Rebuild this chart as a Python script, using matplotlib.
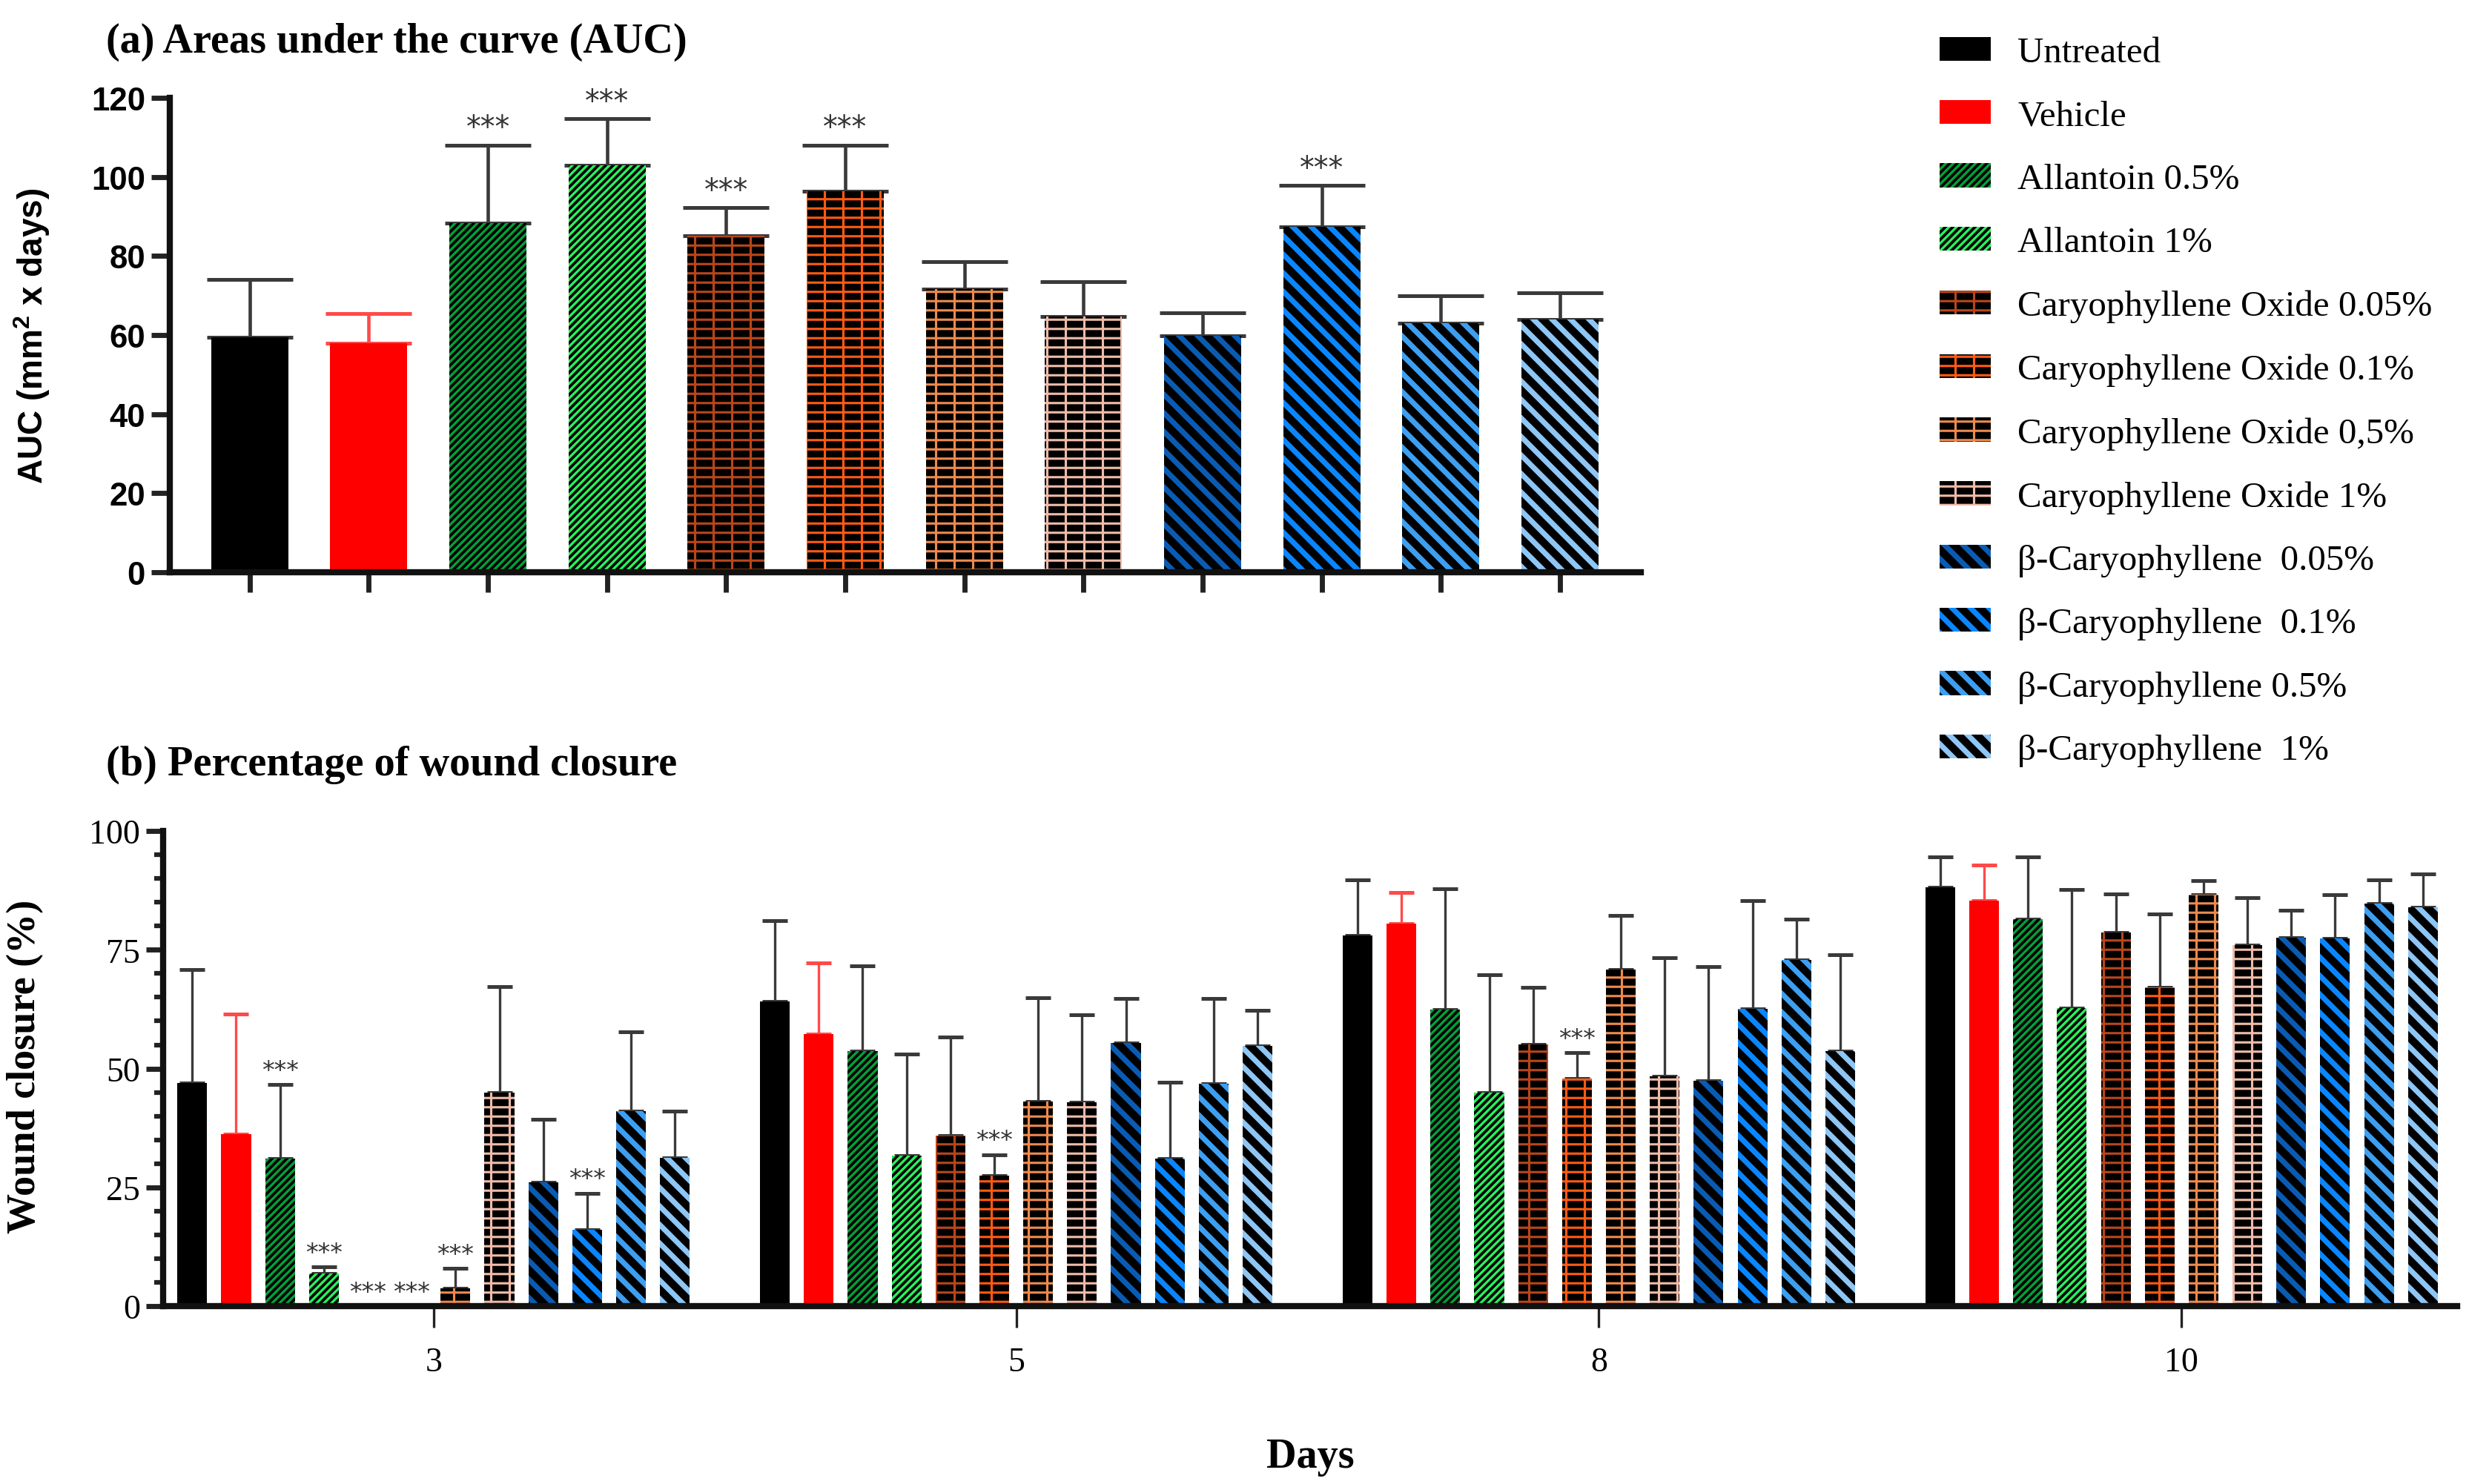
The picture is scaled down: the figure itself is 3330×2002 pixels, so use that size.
#!/usr/bin/env python3
"""Wound healing bars: (a) AUC per treatment, (b) % wound closure per day."""

import matplotlib

matplotlib.use("Agg")
import matplotlib.pyplot as plt
import numpy as np


GROUPS = [
    "Untreated",
    "Vehicle",
    "Allantoin 0.5%",
    "Allantoin 1%",
    "Caryophyllene Oxide 0.05%",
    "Caryophyllene Oxide 0.1%",
    "Caryophyllene Oxide 0,5%",
    "Caryophyllene Oxide 1%",
    "β-Caryophyllene  0.05%",
    "β-Caryophyllene  0.1%",
    "β-Caryophyllene 0.5%",
    "β-Caryophyllene  1%",
]

AUC_MEAN = [59.5, 58.0, 88.3, 103.0, 85.2, 96.3, 71.6, 64.8, 59.9, 87.3, 63.0, 64.0]
AUC_SD = [14.5, 7.4, 19.8, 11.8, 7.1, 11.8, 6.9, 8.8, 5.8, 10.6, 6.9, 6.7]
AUC_SIG = [2, 3, 4, 5, 9]

DAYS = ["3", "5", "8", "10"]
CLOSURE_DAY3 = [46.9, 36.2, 31.0, 6.8, 0.0, 0.0, 3.8, 44.9, 26.1, 16.0, 41.1, 31.2]
CLOSURE_DAY3_SD = [24.0, 25.3, 15.7, 1.4, 0.0, 0.0, 4.2, 22.3, 13.3, 7.8, 16.7, 9.9]
CLOSURE_DAY5 = [64.1, 57.3, 53.7, 31.7, 35.9, 27.4, 43.0, 42.9, 55.4, 31.0, 46.8, 54.7]
CLOSURE_DAY5_SD = [17.1, 15.0, 17.9, 21.4, 20.7, 4.5, 21.9, 18.4, 9.3, 16.2, 18.0, 7.5]
CLOSURE_DAY8 = [78.0, 80.5, 62.4, 44.9, 55.1, 47.9, 70.9, 48.4, 47.4, 62.6, 72.8, 53.7]
CLOSURE_DAY8_SD = [11.7, 6.6, 25.4, 24.8, 12.0, 5.5, 11.3, 25.0, 24.0, 22.8, 8.7, 20.3]
CLOSURE_DAY10 = [88.2, 85.4, 81.5, 62.7, 78.7, 67.1, 86.6, 76.0, 77.5, 77.4, 84.7, 84.0]
CLOSURE_DAY10_SD = [6.4, 7.4, 13.1, 25.0, 8.1, 15.5, 2.9, 9.9, 5.8, 9.2, 5.0, 6.9]
CLOSURE_SIG = [[2, 3, 4, 5, 6, 9], [5], [5], []]

# fill colour, hatch colour, hatch, hatch line width (pt)
STYLES = [
    ("#000000", "#000000", "", 0.0),
    ("#ff0000", "#ff0000", "", 0.0),
    ("#00a23a", "#000000", "/////", 1.8),
    ("#27f25c", "#000000", "/////", 1.8),
    ("#000000", "#b8461a", "--|", 1.5),
    ("#000000", "#ff5a14", "--|", 1.5),
    ("#000000", "#ec8a4e", "--|", 1.5),
    ("#000000", "#eebba8", "--|", 1.5),
    ("#0a5bb4", "#000000", "\\\\", 5.0),
    ("#0a86ff", "#000000", "\\\\", 5.0),
    ("#3d9ff2", "#000000", "\\\\", 5.0),
    ("#8ec6f6", "#000000", "\\\\", 5.0),
]

SERIF = "Liberation Serif"
SANS = "Liberation Sans"

plt.rcParams["hatch.linewidth"] = 1.8
plt.rcParams["mathtext.fontset"] = "custom"
plt.rcParams["mathtext.bf"] = "Liberation Sans:bold"
plt.rcParams["mathtext.rm"] = "Liberation Sans"


def set_hatch_width(patch, lw):
    """Per-patch hatch width; falls back to an rc override at draw time."""
    if hasattr(patch, "set_hatch_linewidth"):
        patch.set_hatch_linewidth(lw)
        return
    if hasattr(patch, "_hatch_linewidth"):
        patch._hatch_linewidth = lw
    original = patch.draw

    def draw(renderer):
        with plt.rc_context({"hatch.linewidth": lw}):
            original(renderer)

    patch.draw = draw


def draw_bars(ax, x, heights, width, style, label=None):
    face, hatch_color, hatch, hatch_lw = style
    bars = ax.bar(
        x,
        heights,
        width,
        color=face,
        edgecolor=hatch_color,
        linewidth=0,
        hatch=hatch or None,
        label=label,
        zorder=2,
    )
    if hatch:
        for patch in bars:
            set_hatch_width(patch, hatch_lw)
    return bars


def err_color(index):
    return "#ff4a4a" if index == 1 else "#3a3a3a"


fig = plt.figure(figsize=(22.2, 13.353), facecolor="white")

# ---- (a) AUC ----
ax_a = fig.add_axes([0.0688, 0.614, 0.5958, 0.3196])
width_a = 0.648
handles = []
for i, name in enumerate(GROUPS):
    bars = draw_bars(ax_a, [i], [AUC_MEAN[i]], width_a, STYLES[i], label=name)
    handles.append(bars)
    ax_a.errorbar(
        i, AUC_MEAN[i], yerr=[[0], [AUC_SD[i]]], fmt="none",
        ecolor=err_color(i), elinewidth=2.2, capsize=28, capthick=2.4, zorder=1,
    )
for i in AUC_SIG:
    ax_a.annotate(
        "***", (i, AUC_MEAN[i] + AUC_SD[i]), xytext=(0, 1), textcoords="offset points",
        ha="center", va="bottom", fontsize=19, color="#333333", family="DejaVu Sans",
    )

ax_a.set_xlim(-0.67, 11.68)
ax_a.set_ylim(0, 120)
ax_a.set_yticks(np.arange(0, 121, 20))
ax_a.set_xticks(np.arange(len(GROUPS)))
ax_a.set_xticklabels([])
ax_a.tick_params(axis="x", direction="out", length=13, width=3.3, color="#222222")
ax_a.tick_params(axis="y", direction="out", length=12, width=3.3, pad=4,
                 labelsize=21, color="#222222")
for lab in ax_a.get_yticklabels():
    lab.set_family(SANS)
    lab.set_fontweight("bold")
for side in ("top", "right"):
    ax_a.spines[side].set_visible(False)
for side in ("left", "bottom"):
    ax_a.spines[side].set_linewidth(4)
    ax_a.spines[side].set_color("#111111")
ax_a.set_ylabel(r"AUC (mm$^\mathbf{2}$ x days)", fontsize=22, fontweight="bold", family=SANS)
ax_a.yaxis.set_label_coords(-0.080, 0.5)

# ---- (b) wound closure ----
ax_b = fig.add_axes([0.0661, 0.1198, 0.9291, 0.32])
closure = np.array([CLOSURE_DAY3, CLOSURE_DAY5, CLOSURE_DAY8, CLOSURE_DAY10])
closure_sd = np.array([CLOSURE_DAY3_SD, CLOSURE_DAY5_SD, CLOSURE_DAY8_SD, CLOSURE_DAY10_SD])
day_pos = np.arange(len(DAYS))
step = 0.0753
width_b = 0.051
for i in range(len(GROUPS)):
    x = day_pos + (i - (len(GROUPS) - 1) / 2) * step
    draw_bars(ax_b, x, closure[:, i], width_b, STYLES[i])
    has_err = closure_sd[:, i] > 0
    ax_b.errorbar(
        x[has_err], closure[has_err, i],
        yerr=[np.zeros(has_err.sum()), closure_sd[has_err, i]], fmt="none",
        ecolor=err_color(i), elinewidth=1.6, capsize=8, capthick=2.4, zorder=1,
    )
for d, sig in enumerate(CLOSURE_SIG):
    for i in sig:
        x = d + (i - (len(GROUPS) - 1) / 2) * step
        ax_b.annotate(
            "***", (x, closure[d, i] + closure_sd[d, i]), xytext=(0, 1),
            textcoords="offset points", ha="center", va="bottom", fontsize=16,
            color="#333333", family="DejaVu Sans",
        )

ax_b.set_xlim(-0.464, 3.473)
ax_b.set_ylim(0, 100)
ax_b.set_yticks([0, 25, 50, 75, 100])
ax_b.set_yticks(np.arange(0, 101, 5), minor=True)
ax_b.set_xticks(day_pos)
ax_b.set_xticklabels(DAYS, family=SERIF, fontsize=22)
ax_b.tick_params(axis="x", direction="out", length=14, width=1.6, pad=12, color="#222222")
ax_b.tick_params(axis="y", which="major", direction="out", length=11, width=3.3,
                 pad=4, labelsize=22, color="#222222")
ax_b.tick_params(axis="y", which="minor", direction="out", length=6, width=3,
                 color="#222222")
for lab in ax_b.get_yticklabels():
    lab.set_family(SERIF)
for side in ("top", "right"):
    ax_b.spines[side].set_visible(False)
for side in ("left", "bottom"):
    ax_b.spines[side].set_linewidth(4)
    ax_b.spines[side].set_color("#111111")
ax_b.set_ylabel("Wound closure (%)", fontsize=26, fontweight="bold", family=SERIF)
ax_b.yaxis.set_label_coords(-0.052, 0.505)
ax_b.set_xlabel("Days", fontsize=27, fontweight="bold", family=SERIF)
ax_b.xaxis.set_label_coords(0.5, -0.276)

# ---- titles and legend ----
fig.text(0.043, 0.9715, "(a) Areas under the curve (AUC)", fontsize=27,
         fontweight="bold", family=SERIF, va="center", ha="left")
fig.text(0.043, 0.4848, "(b) Percentage of wound closure", fontsize=27,
         fontweight="bold", family=SERIF, va="center", ha="left")

legend = fig.legend(
    handles, GROUPS, loc="upper left", bbox_to_anchor=(0.7856, 0.975),
    frameon=False, prop={"family": SERIF, "size": 23.5},
    handlelength=1.4, handleheight=0.64, handletextpad=0.75,
    labelspacing=0.845, borderpad=0, borderaxespad=0,
)
for patch, style in zip(legend.get_patches(), STYLES):
    if style[2]:
        set_hatch_width(patch, style[3])

fig.savefig("out.png", dpi=150)
plt.close(fig)
